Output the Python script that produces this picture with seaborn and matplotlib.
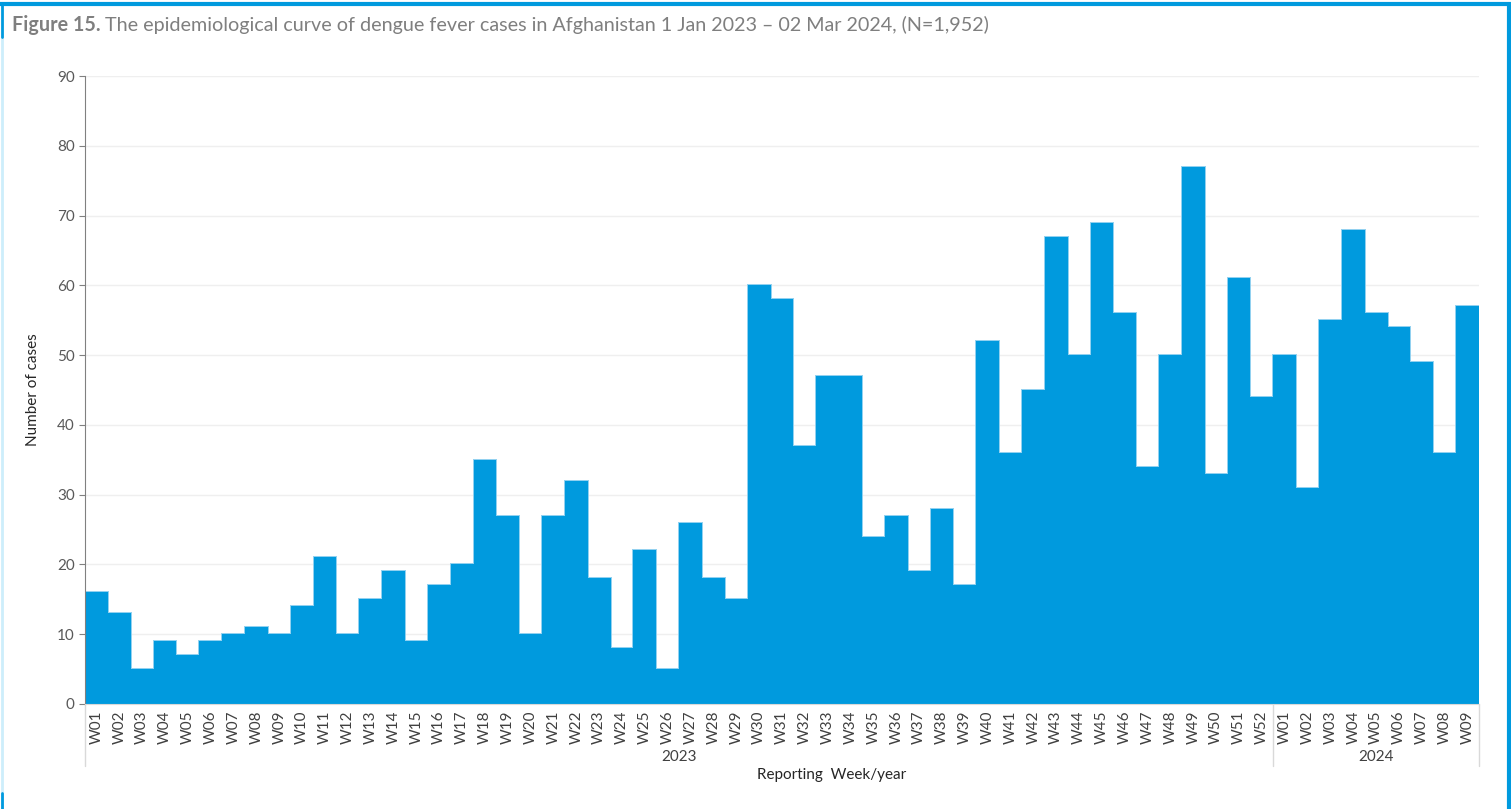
import pandas as pd
import seaborn as sns
import matplotlib.pyplot as plt
from matplotlib.lines import Line2D

# --- Data ---
weeks_2023 = [f"W{i:02d}" for i in range(1, 53)]
cases_2023 = [16, 13, 5, 9, 7, 9, 10, 11, 10, 14,
              21, 10, 15, 19, 9, 17, 20, 35, 27, 10,
              27, 32, 18, 8, 22, 5, 26, 18, 15, 60,
              58, 37, 47, 47, 24, 27, 19, 28, 17, 52,
              36, 45, 67, 50, 69, 56, 34, 50, 77, 33,
              61, 44]
weeks_2024 = [f"W{i:02d}" for i in range(1, 10)]
cases_2024 = [50, 31, 55, 68, 56, 54, 49, 36, 57]
years = ["2023", "2024"]

df = pd.DataFrame({
    "week": weeks_2023 + weeks_2024,
    "year": [years[0]] * len(weeks_2023) + [years[1]] * len(weeks_2024),
    "cases": cases_2023 + cases_2024,
})
df["key"] = df["year"] + "-" + df["week"]

# --- Plot ---
sns.set_style("white")
plt.rcParams['font.family'] = ['Lato', 'DejaVu Sans']

fig = plt.figure(figsize=(15.11, 8.09), dpi=100)
ax = fig.add_axes([0.0563, 0.1298, 0.9225, 0.7762])

# light outline layer, then fill layer on top so only the outer outline shows
sns.barplot(data=df, x="key", y="cases", color="#8fd0f0", width=1.0,
            edgecolor="#8fd0f0", linewidth=1.4, saturation=1, ax=ax, zorder=2)
sns.barplot(data=df, x="key", y="cases", color="#009ADE", width=1.0,
            linewidth=0, saturation=1, ax=ax, zorder=3)

ax.set_xlim(-0.5, len(df) - 0.5)
ax.set_ylim(0, 90)
ax.set_yticks(range(0, 91, 10))
ax.yaxis.grid(True, color="#efefef", linewidth=1, zorder=0)
ax.set_axisbelow(True)
ax.set_xticks(range(len(df)))
ax.set_xticklabels(df["week"], rotation=90, fontsize=11, color="#404040")
ax.tick_params(axis="y", labelsize=11, labelcolor="#595959", length=4,
               color="#808080", direction="out", left=True)
ax.tick_params(axis="x", length=0, pad=5)

for s in ["top", "right"]:
    ax.spines[s].set_visible(False)
ax.spines["left"].set_color("#808080")
ax.spines["left"].set_zorder(5)
ax.spines["bottom"].set_color("#d9d9d9")
ax.spines["bottom"].set_zorder(5)

ax.set_xlabel("")
ax.set_ylabel("Number of cases", fontsize=11, color="#262626", labelpad=12)

# year group labels and separators below the axis
trans = ax.get_xaxis_transform()
n23 = len(weeks_2023)
for xpos in [-0.5, n23 - 0.5, len(df) - 0.5]:
    ax.add_line(Line2D([xpos, xpos], [0, -0.099], transform=trans,
                       color="#d9d9d9", linewidth=1, clip_on=False))
ax.text((n23 - 1) / 2, -0.085, years[0], transform=trans, ha="center",
        va="center", fontsize=11, color="#404040")
ax.text(n23 + (len(weeks_2024) - 1) / 2, -0.085, years[1], transform=trans,
        ha="center", va="center", fontsize=11, color="#404040")
fig.text(0.5505, 0.042, "Reporting  Week/year", ha="center", va="center",
         fontsize=11, color="#262626")

# title
t1 = fig.text(0.008, 0.969, "Figure 15.", fontsize=14.2, fontweight="bold",
              color="#7f7f7f", ha="left", va="center")
fig.canvas.draw()
bb = t1.get_window_extent().transformed(fig.transFigure.inverted())
fig.text(bb.x1 + 0.003, 0.969,
         "The epidemiological curve of dengue fever cases in Afghanistan 1 Jan 2023 \u2013 02 Mar 2024, (N=1,952)",
         fontsize=14.2, color="#7f7f7f", ha="left", va="center")

# frame
fig.add_artist(Line2D([0, 1], [0.995, 0.995], color="#009ADE", linewidth=3))
fig.add_artist(Line2D([0.9985, 0.9985], [0, 0.995], color="#009ADE", linewidth=3))
fig.add_artist(Line2D([0.001, 0.001], [0, 0.954], color="#cdeefb", linewidth=2))
fig.add_artist(Line2D([0.001, 0.001], [0.954, 0.995], color="#009ADE", linewidth=2))
fig.add_artist(Line2D([0.001, 0.001], [0.0, 0.02], color="#009ADE", linewidth=2))

fig.savefig("out.png", dpi=100)
